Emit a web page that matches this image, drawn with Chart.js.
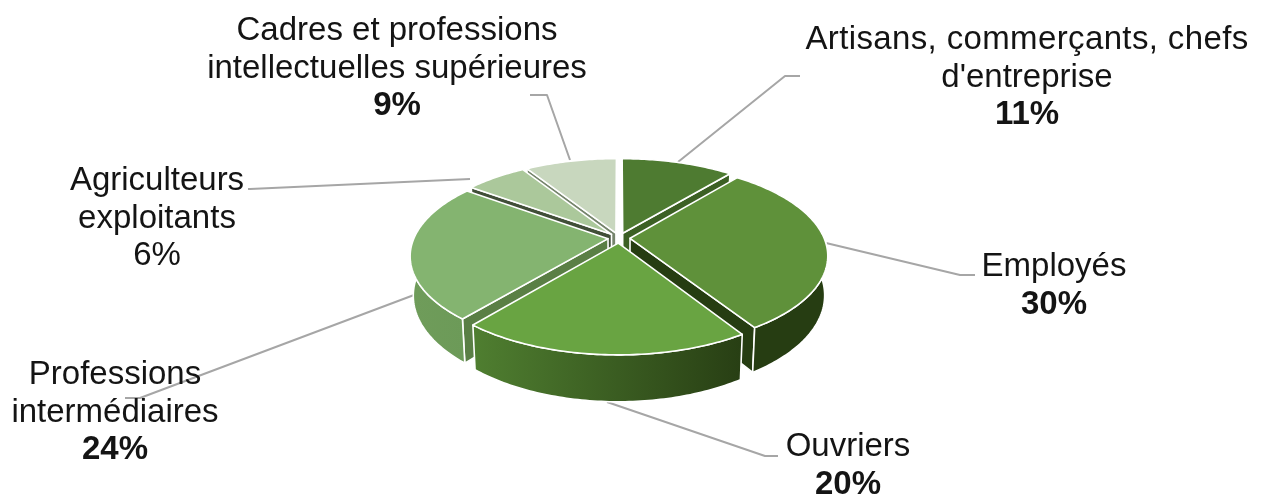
<!DOCTYPE html>
<html>
<head>
<meta charset="utf-8">
<style>html,body{margin:0;padding:0;background:#fff}canvas{display:block}</style>
<script src="https://cdn.jsdelivr.net/npm/chart.js@4/dist/chart.umd.js"></script>
</head>
<body>
<canvas id="c" width="1262" height="497"></canvas>
<script>
const categories = ["Artisans, commerçants, chefs d'entreprise", "Employés", "Ouvriers", "Professions intermédiaires", "Agriculteurs exploitants", "Cadres et professions intellectuelles supérieures"];
const values = [11, 30, 20, 24, 6, 9];
const topColors = ["#4E7B31", "#5F913A", "#69A442", "#84B470", "#ABC89B", "#C8D7BE"];
const wallFrom = ["#3C6024", "#263D12", "#4F7E30", "#6F9C5A", "#5E7A50", "#7A8C70"];
const wallTo = ["#3C6024", "#263D12", "#283F14", "#6C9A58", "#5E7A50", "#7A8C70"];
const sideColors = ["#3C6024", "#263D12", "#283F14", "#5A7F45", "#414F38", "#75846C"];
const labelLines = [["Artisans, commerçants, chefs", "d'entreprise"], ["Employés"], ["Ouvriers"], ["Professions", "intermédiaires"], ["Agriculteurs", "exploitants"], ["Cadres et professions", "intellectuelles supérieures"]];
const boldPercent = [true, true, true, true, false, true];

// presentation constants
const P = 0.18, K = 0.4615, E = 0.057, DEPTH = 38, BOTTOM_X = 0.985;
const FONT = '"Liberation Sans", Arial, sans-serif', FS = 33, LH = 38;
const labelPos = [[1027, 40], [1054, 267], [848, 447], [115, 375], [157, 181], [397, 31]];
const leaders = [
  [[678, 162], [785, 76], [800, 76]],
  [[826, 243], [960, 275], [975, 275]],
  [[607, 402], [765, 456], [778, 456]],
  [[414, 295], [140, 398], [125, 398]],
  [[470, 179], [250, 189], [248, 189]],
  [[570, 160], [547, 95], [530, 95]]
];
const drawOrder = [0, 5, 4, 1, 3, 2];

function proj(arc, r, a, z) {
  const mid = (arc.startAngle + arc.endAngle) / 2, R = arc.outerRadius;
  const U = E * Math.cos(mid) + r * Math.cos(a), V = E * Math.sin(mid) + r * Math.sin(a);
  const d = 1 - P * V;
  return [arc.x + R * U / d * (z ? BOTTOM_X : 1), arc.y + R * K * V / d + (z ? DEPTH / d : 0)];
}
function poly(ctx, pts, fill) {
  ctx.beginPath();
  pts.forEach((p, i) => i ? ctx.lineTo(p[0], p[1]) : ctx.moveTo(p[0], p[1]));
  ctx.closePath();
  ctx.fillStyle = fill;
  ctx.fill();
  ctx.stroke();
}
const pie3d = {
  id: 'pie3d',
  beforeDatasetsDraw(chart) {
    const ctx = chart.ctx, arcs = chart.getDatasetMeta(0).data;
    ctx.save();
    ctx.lineJoin = 'round';
    ctx.strokeStyle = '#fff';
    ctx.lineWidth = 1.6;
    // leader lines
    ctx.save();
    ctx.strokeStyle = '#A6A6A6';
    ctx.lineWidth = 2;
    leaders.forEach(l => {
      ctx.beginPath();
      l.forEach((p, i) => i ? ctx.lineTo(p[0], p[1]) : ctx.moveTo(p[0], p[1]));
      ctx.stroke();
    });
    ctx.restore();
    drawOrder.forEach(i => {
      const arc = arcs[i], s = arc.startAngle, e = arc.endAngle;
      const n = Math.max(6, Math.round((e - s) * 60));
      const angles = []; for (let t = 0; t <= n; t++) angles.push(s + (e - s) * t / n);
      const c0 = proj(arc, 0, s, false), c1 = proj(arc, 0, s, true);
      if (Math.cos(s) < -0.001) poly(ctx, [c0, proj(arc, 1, s, false), proj(arc, 1, s, true), c1], sideColors[i]);
      if (Math.cos(e) > 0.001) poly(ctx, [c0, proj(arc, 1, e, false), proj(arc, 1, e, true), c1], sideColors[i]);
      const vis = angles.filter(a => Math.sin(a) > -0.1);
      if (vis.length > 1) {
        const top = vis.map(a => proj(arc, 1, a, false)), bot = vis.map(a => proj(arc, 1, a, true));
        const minX = Math.min(...bot.map(p => p[0])), maxX = Math.max(...bot.map(p => p[0]));
        const g = ctx.createLinearGradient(minX, 0, maxX, 0);
        g.addColorStop(0, wallFrom[i]);
        g.addColorStop(1, wallTo[i]);
        poly(ctx, top.concat(bot.slice().reverse()), g);
      }
      poly(ctx, [c0].concat(angles.map(a => proj(arc, 1, a, false))), topColors[i]);
    });
    ctx.restore();
    return false;
  },
  afterDraw(chart) {
    const ctx = chart.ctx;
    ctx.save();
    ctx.textAlign = 'center';
    ctx.textBaseline = 'middle';
    ctx.fillStyle = '#141414';
    labelLines.forEach((lines, i) => {
      const [x, y] = labelPos[i];
      ctx.font = FS + 'px ' + FONT;
      lines.forEach((t, j) => {
        ctx.letterSpacing = (i === 0 && j === 0) ? '0.37px' : '0px';
        ctx.fillText(t, x, y + j * LH);
      });
      ctx.letterSpacing = '0px';
      ctx.font = (boldPercent[i] ? 'bold ' : '') + FS + 'px ' + FONT;
      ctx.fillText(values[i] + '%', x, y + lines.length * LH - (lines.length > 1 ? 1 : 0));
    });
    ctx.restore();
  }
};
new Chart(document.getElementById('c'), {
  type: 'pie',
  data: { labels: categories, datasets: [{ data: values, backgroundColor: topColors, borderColor: '#fff', borderWidth: 0 }] },
  options: {
    responsive: false,
    animation: false,
    radius: 194,
    layout: { padding: { right: 24, bottom: 21 } },
    plugins: { legend: { display: false }, tooltip: { enabled: false } }
  },
  plugins: [pie3d]
});
</script>
</body>
</html>
